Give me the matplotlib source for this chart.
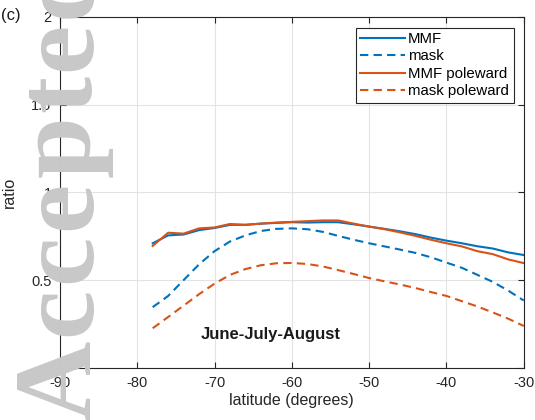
import numpy as np
import matplotlib
matplotlib.use("Agg")
import matplotlib.pyplot as plt
from matplotlib.font_manager import FontProperties

plt.rcParams['font.family'] = ['Liberation Sans', 'DejaVu Sans']
plt.rcParams['axes.unicode_minus'] = False

# latitude (degrees)
lat = [-78, -76, -74, -72, -70, -68, -66, -64, -62, -60, -58, -56, -54,
       -52, -50, -48, -46, -44, -42, -40, -38, -36, -34, -32, -30]

mmf = [0.710, 0.755, 0.760, 0.785, 0.797, 0.815, 0.815, 0.822, 0.826, 0.830,
       0.828, 0.830, 0.830, 0.818, 0.805, 0.792, 0.778, 0.762, 0.742, 0.725,
       0.710, 0.693, 0.680, 0.658, 0.643]
mask = [0.346, 0.410, 0.500, 0.590, 0.665, 0.720, 0.755, 0.780, 0.792, 0.795,
        0.790, 0.775, 0.752, 0.730, 0.710, 0.692, 0.674, 0.655, 0.630, 0.600,
        0.570, 0.530, 0.490, 0.440, 0.384]
mmf_pole = [0.695, 0.770, 0.765, 0.795, 0.800, 0.820, 0.815, 0.822, 0.828, 0.832,
            0.836, 0.840, 0.840, 0.822, 0.805, 0.790, 0.772, 0.752, 0.730, 0.710,
            0.692, 0.665, 0.648, 0.618, 0.597]
mask_pole = [0.226, 0.290, 0.355, 0.420, 0.480, 0.530, 0.563, 0.585, 0.596, 0.598,
             0.592, 0.578, 0.557, 0.535, 0.512, 0.493, 0.475, 0.455, 0.432, 0.410,
             0.380, 0.350, 0.316, 0.280, 0.239]

xticks = [-90, -80, -70, -60, -50, -40, -30]
yticks = [0, 0.5, 1, 1.5, 2]
ytick_labels = ['0', '0.5', '1', '1.5', '2']

blue = '#0072BD'
orange = '#D95319'

fig = plt.figure(figsize=(5.35, 4.2), dpi=100)
ax = fig.add_axes([0.112, 0.124, 0.867, 0.836])

dash = (4, 2.5)
ax.plot(lat, mmf, color=blue, lw=1.5, label='MMF')
ax.plot(lat, mask, color=blue, lw=1.5, dashes=dash, label='mask')
ax.plot(lat, mmf_pole, color=orange, lw=1.5, label='MMF poleward')
ax.plot(lat, mask_pole, color=orange, lw=1.5, dashes=dash, label='mask poleward')

ax.set_xlim(-90, -30)
ax.set_ylim(0, 2)
ax.set_xticks(xticks)
ax.set_yticks(yticks)
ax.set_yticklabels(ytick_labels)
ax.grid(True, color='#e3e3e3', lw=0.8)
ax.set_axisbelow(True)
ax.tick_params(direction='in', top=True, right=True, length=4, width=0.8,
               color='#262626', labelsize=10.5, labelcolor='#262626', pad=6)
for s in ax.spines.values():
    s.set_color('#262626')
    s.set_linewidth(0.8)

ax.set_xlabel('latitude (degrees)', fontsize=11.5, color='#262626', labelpad=2)
ax.set_ylabel('ratio', fontsize=11.5, color='#262626', labelpad=10)

leg = ax.legend(loc='upper right', bbox_to_anchor=(0.978, 0.969), fontsize=10.8,
                handlelength=3.0, handletextpad=0.2, labelspacing=0.22,
                borderpad=0.3, fancybox=False, framealpha=1, borderaxespad=0)
leg.get_frame().set_edgecolor('#262626')
leg.get_frame().set_linewidth(0.8)

ax.text(-62.7, 0.19, 'June-July-August', fontsize=12, fontweight='bold',
        ha='center', va='center', color='#1a1a1a')

fig.text(0.002, 0.962, '(c)', fontsize=12, ha='left', va='center', color='#1a1a1a')

# watermark, letter by letter so it can be spaced out a little
wm_font = FontProperties(family='Liberation Serif', weight='bold', size=80)
em = 80 / 72 * 100
wm_advance = {'A': 0.722, 'c': 0.444, 'e': 0.444, 'p': 0.556, 't': 0.333, 'd': 0.556}
ypos = 0.0
for ch in 'Accepted':
    fig.text(90 / 535, ypos / 420, ch, rotation=90, rotation_mode='anchor',
             ha='left', va='baseline', fontproperties=wm_font,
             color='#c8c8c8', zorder=10)
    ypos += wm_advance[ch] * em + 0.033 * em

fig.savefig('out.png', dpi=100)
